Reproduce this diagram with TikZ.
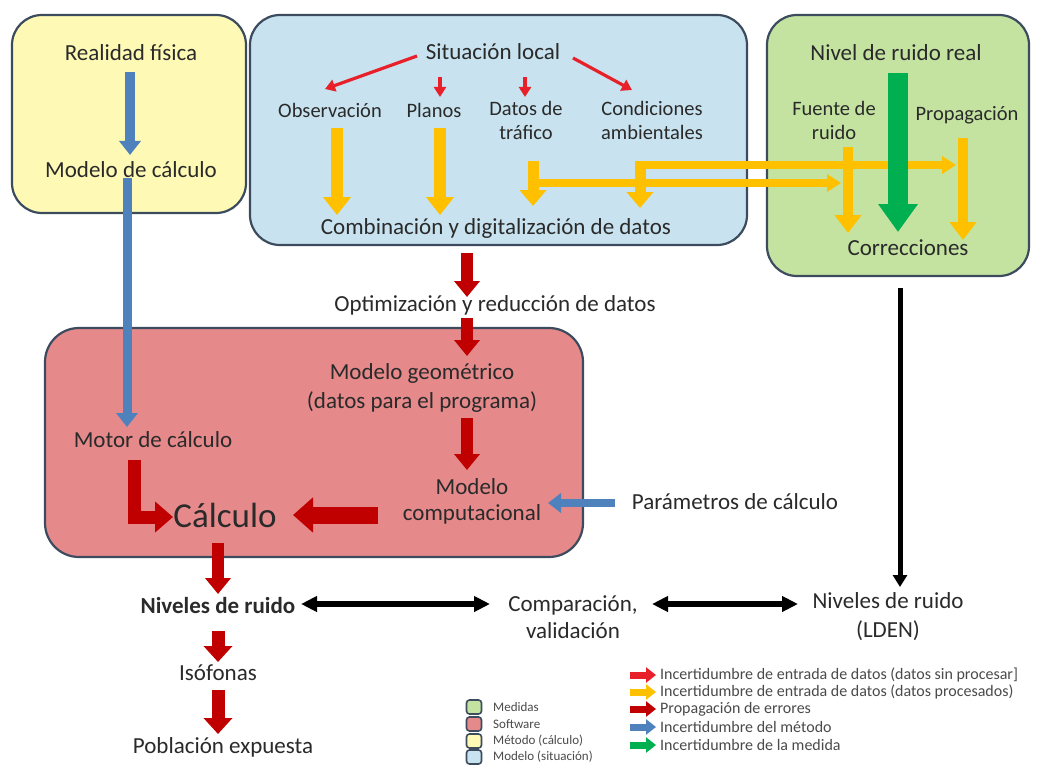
\documentclass[tikz,border=0pt]{standalone}
\usepackage{fontspec}
\setmainfont{Carlito}
\usetikzlibrary{arrows.meta}
\definecolor{txtc}{HTML}{2A2A2A}
\definecolor{bordc}{HTML}{3C4C5E}
\definecolor{yelf}{HTML}{FEFAB6}
\definecolor{bluf}{HTML}{C8E3EF}
\definecolor{grnf}{HTML}{C4E3A1}
\definecolor{redf}{HTML}{E5898B}
\definecolor{redA}{HTML}{E8202A}
\definecolor{orA}{HTML}{FFC000}
\definecolor{drA}{HTML}{C00000}
\definecolor{blA}{HTML}{4F81BD}
\definecolor{grA}{HTML}{00B050}
\tikzset{
  fsz/.style={font=\fontsize{#1}{28}\selectfont},
  lbl/.style={text=txtc, align=center, inner sep=1pt, fsz=23},
  sml/.style={text=txtc, align=center, inner sep=1pt, font=\fontsize{20.5}{24}\selectfont},
  bigbox/.style={draw=bordc, line width=2.2pt, rounded corners=30pt},
  thinred/.style={draw=redA, line width=3.2pt, -{Triangle[width=12pt,length=10pt]}},
  orarr/.style={draw=orA, line width=12pt, -{Triangle[width=27pt,length=18pt]}},
  orhor/.style={draw=orA, line width=8pt, -{Triangle[width=17pt,length=14pt]}},
  drarr/.style={draw=drA, line width=12pt, -{Triangle[width=25pt,length=16pt]}},
  drbig/.style={draw=drA, line width=17pt, -{Triangle[width=34pt,length=20pt]}},
  blarr/.style={draw=blA, line width=10pt, -{Triangle[width=21pt,length=14pt]}},
  grarr/.style={draw=grA, line width=20pt, -{Triangle[width=38pt,length=28pt]}},
  blkarr/.style={draw=black, line width=5pt, -{Triangle[width=14pt,length=12pt]}},
  blkdbl/.style={draw=black, line width=6pt, {Triangle[width=15pt,length=16pt]}-{Triangle[width=15pt,length=16pt]}},
  legsq/.style={draw=bordc, line width=1.6pt, rounded corners=3pt, minimum width=15pt, minimum height=14pt, inner sep=0pt},
  legarr/.style={line width=7pt, -{Triangle[width=15pt,length=10pt]}},
  legtxt/.style={anchor=west, text=txtc!85, inner sep=0pt, font=\fontsize{16}{18}\selectfont},
  legtxt2/.style={anchor=west, text=txtc!85, inner sep=0pt, font=\fontsize{13}{15}\selectfont},
}
\begin{document}
\begin{tikzpicture}[x=1pt,y=-1pt]
\useasboundingbox (0,0) rectangle (1041,765);
\fill[white] (0,0) rectangle (1041,765);
% boxes
\draw[bigbox, fill=yelf] (12,15) rectangle (246,213);
\draw[bigbox, fill=bluf] (250,15) rectangle (747,245);
\draw[bigbox, fill=grnf] (767,15) rectangle (1029,276);
\draw[bigbox, fill=redf, rounded corners=34pt] (45,328) rectangle (583,557);

% yellow box
\node[lbl] (realidad) at (131,53) {Realidad física};
\node[lbl] (modcalc) at (131,170) {Modelo de cálculo};
% blue box
\node[lbl] (situacion) at (493,52) {Situación local};
\node[sml] (obs) at (330,110) {Observación};
\node[sml] (planos) at (434,110) {Planos};
\node[sml] (datos) at (526,120) {Datos de\\tráfico};
\node[sml] (cond) at (652,120) {Condiciones\\ambientales};
\node[lbl] (comb) at (496,228) {Combinación y digitalización de datos};
% green box
\node[lbl] (nivreal) at (896,53) {Nivel de ruido real};
\node[sml] (fuente) at (834,120) {Fuente de\\ruido};
\node[sml] (propag) at (967,115) {Propagación};
\node[lbl] (correc) at (908,248) {Correcciones};
% middle
\node[lbl] (optim) at (495,305) {Optimización y reducción de datos};
\node[lbl, font=\fontsize{23}{29}\selectfont] (geom) at (422,388) {Modelo geométrico\\(datos para el programa)};
\node[lbl, font=\fontsize{23}{26}\selectfont] (compu) at (472,501) {Modelo\\computacional};
\node[lbl] (motor) at (153,440) {Motor de cálculo};
\node[lbl, fsz=35] (calc) at (225,515) {Cálculo};
\node[lbl] (param) at (735,502) {Parámetros de cálculo};
% bottom
\node[lbl, font=\bfseries\fontsize{23}{27}\selectfont] (nivel) at (218,606) {Niveles de ruido};
\node[lbl, font=\fontsize{23}{27}\selectfont] (compar) at (573,617) {Comparación,\\validación};
\node[lbl, font=\fontsize{23}{29}\selectfont] (lden) at (888,617) {Niveles de ruido\\(LDEN)};
\node[lbl] (iso) at (218,673) {Isófonas};
\node[lbl] (pob) at (223,747) {Población expuesta};

% blue arrows (method)
\coordinate (b1s) at (130,72);  \coordinate (b1e) at (130,155);
\coordinate (b2s) at (127,178); \coordinate (b2e) at (127,427);
\draw[blarr] (b1s) -- (b1e);
\draw[blarr, line width=9pt] (b2s) -- (b2e);

% thin red arrows
\coordinate (r1s) at (417,56); \coordinate (r1e) at (325,89);
\coordinate (r2s) at (440,77); \coordinate (r2e) at (440,97);
\coordinate (r3s) at (525,77); \coordinate (r3e) at (525,97);
\coordinate (r4s) at (573,58); \coordinate (r4e) at (632,90);
\draw[thinred] (r1s) -- (r1e);
\draw[thinred] (r2s) -- (r2e);
\draw[thinred] (r3s) -- (r3e);
\draw[thinred] (r4s) -- (r4e);

% orange arrows
\coordinate (o1s) at (337,128); \coordinate (o1e) at (337,215);
\coordinate (o2s) at (440,128); \coordinate (o2e) at (440,215);
\coordinate (o3s) at (533,161); \coordinate (o3e) at (533,206);
\coordinate (o4s) at (640,161); \coordinate (o4e) at (640,208);
\coordinate (o5s) at (848,147); \coordinate (o5e) at (848,233);
\coordinate (o6s) at (963,138); \coordinate (o6e) at (963,240);
\coordinate (h1e) at (841,183);
\coordinate (h2e) at (956,165);
\draw[orarr] (o1s) -- (o1e);
\draw[orarr] (o2s) -- (o2e);
\draw[orhor] (o3s |- h1e) -- (h1e);
\draw[orhor] (o4s |- h2e) -- (h2e);
\draw[orarr, line width=11pt, -{Triangle[width=26pt,length=16pt]}] (o3s) -- (o3e);
\draw[orarr, line width=11pt, -{Triangle[width=26pt,length=16pt]}] (o4s) -- (o4e);
\draw[orarr, line width=10pt, -{Triangle[width=26pt,length=18pt]}] (o5s) -- (o5e);
\draw[orarr, line width=10pt, -{Triangle[width=26pt,length=18pt]}] (o6s) -- (o6e);
% green arrow
\coordinate (gs) at (898,73); \coordinate (ge) at (898,232);
\draw[grarr] (gs) -- (ge);

% dark red chain
\coordinate (d1s) at (467,253); \coordinate (d1e) at (467,297);
\coordinate (d2s) at (467,318); \coordinate (d2e) at (467,356);
\coordinate (d3s) at (467,418); \coordinate (d3e) at (467,470);
\draw[drarr] (d1s) -- (d1e);
\draw[drarr] (d2s) -- (d2e);
\draw[drarr] (d3s) -- (d3e);
\coordinate (bgs) at (378,515); \coordinate (bge) at (293,515);
\draw[drbig] (bgs) -- (bge);
\coordinate (ls) at (134,460); \coordinate (lc) at (134,517); \coordinate (le) at (173,517);
\draw[drA, line width=13pt, line join=miter, -{Triangle[width=30pt,length=18pt]}] (ls) -- (lc) -- (le);
\coordinate (d4s) at (218,543); \coordinate (d4e) at (218,594);
\coordinate (d5s) at (218,631); \coordinate (d5e) at (218,662);
\coordinate (d6s) at (218,690); \coordinate (d6e) at (218,734);
\draw[drarr] (d4s) -- (d4e);
\draw[drarr, line width=13pt, -{Triangle[width=28pt,length=16pt]}] (d5s) -- (d5e);
\draw[drarr, line width=13pt, -{Triangle[width=28pt,length=16pt]}] (d6s) -- (d6e);
% parameter arrow
\coordinate (ps) at (615,503); \coordinate (pe) at (548,503);
\draw[blarr, line width=8pt, -{Triangle[width=19pt,length=13pt]}] (ps) -- (pe);

% black arrows
\coordinate (ks) at (900,288); \coordinate (ke) at (900,587);
\draw[blkarr] (ks) -- (ke);
\coordinate (c1a) at (301,604); \coordinate (c1b) at (490,604);
\coordinate (c2a) at (652,604); \coordinate (c2b) at (798,604);
\draw[blkdbl] (c1a) -- (c1b);
\draw[blkdbl] (c2a) -- (c2b);

% legend squares
\node[legsq, fill=grnf] (sq1) at (474,707) {};
\node[legsq, fill=redf] (sq2) at (474,724) {};
\node[legsq, fill=yelf] (sq3) at (474,741) {};
\node[legsq, fill=bluf] (sq4) at (474,757) {};
\node[legtxt2] (sl1) at (493,707) {Medidas};
\node[legtxt2] (sl2) at (493,724) {Software};
\node[legtxt2] (sl3) at (493,741) {Método (cálculo)};
\node[legtxt2] (sl4) at (493,757) {Modelo (situación)};
% legend arrows
\coordinate (la1) at (630,675); \coordinate (lb1) at (656,675);
\coordinate (la2) at (630,692); \coordinate (lb2) at (656,692);
\coordinate (la3) at (630,709); \coordinate (lb3) at (656,709);
\coordinate (la4) at (630,727); \coordinate (lb4) at (656,727);
\coordinate (la5) at (630,745); \coordinate (lb5) at (656,745);
\draw[legarr, draw=redA] (la1) -- (lb1);
\draw[legarr, draw=orA] (la2) -- (lb2);
\draw[legarr, draw=drA] (la3) -- (lb3);
\draw[legarr, draw=blA] (la4) -- (lb4);
\draw[legarr, draw=grA] (la5) -- (lb5);
\node[legtxt] (lt1) at (660,675) {Incertidumbre de entrada de datos (datos sin procesar]};
\node[legtxt] (lt2) at (660,692) {Incertidumbre de entrada de datos (datos procesados)};
\node[legtxt] (lt3) at (660,709) {Propagación de errores};
\node[legtxt] (lt4) at (660,727) {Incertidumbre del método};
\node[legtxt] (lt5) at (660,745) {Incertidumbre de la medida};
\end{tikzpicture}
\end{document}
